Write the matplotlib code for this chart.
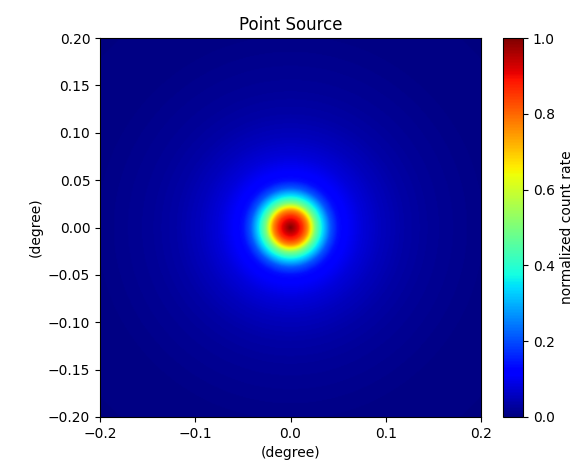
import numpy as np
import matplotlib
matplotlib.use("Agg")
import matplotlib.pyplot as plt

# radial profile of the point source (degree, normalized rate)
radius_deg = [0.0, 0.005, 0.0126, 0.018, 0.021, 0.026, 0.033, 0.042, 0.05,
              0.06, 0.075, 0.095, 0.12, 0.147, 0.2, 0.3]
rate = [1.0, 0.95, 0.86, 0.76, 0.67, 0.5, 0.36, 0.21, 0.14,
        0.11, 0.08, 0.055, 0.035, 0.022, 0.008, 0.002]

half_width = 0.2
npix = 400

x = np.linspace(-half_width, half_width, npix)
xx, yy = np.meshgrid(x, x)
rr = np.hypot(xx, yy)
img = np.interp(rr, radius_deg, rate)

fig = plt.figure(figsize=(5.82, 4.74), dpi=100)
ax = fig.add_axes([100/582, 1-417/474, 381/582, 379/474])
cax = fig.add_axes([503/582, 1-417/474, 20/582, 379/474])

im = ax.imshow(img, cmap="jet", vmin=0, vmax=1, origin="lower",
               extent=[-half_width, half_width, -half_width, half_width],
               aspect="auto", interpolation="bilinear")
ax.set_xticks([-0.2, -0.1, 0.0, 0.1, 0.2])
ax.set_yticks(np.arange(-0.2, 0.201, 0.05))
ax.set_xlabel("(degree)")
ax.set_ylabel("(degree)")
ax.set_title("Point Source")

cb = fig.colorbar(im, cax=cax)
cb.set_label("normalized count rate")

fig.savefig("out.png", dpi=100)
